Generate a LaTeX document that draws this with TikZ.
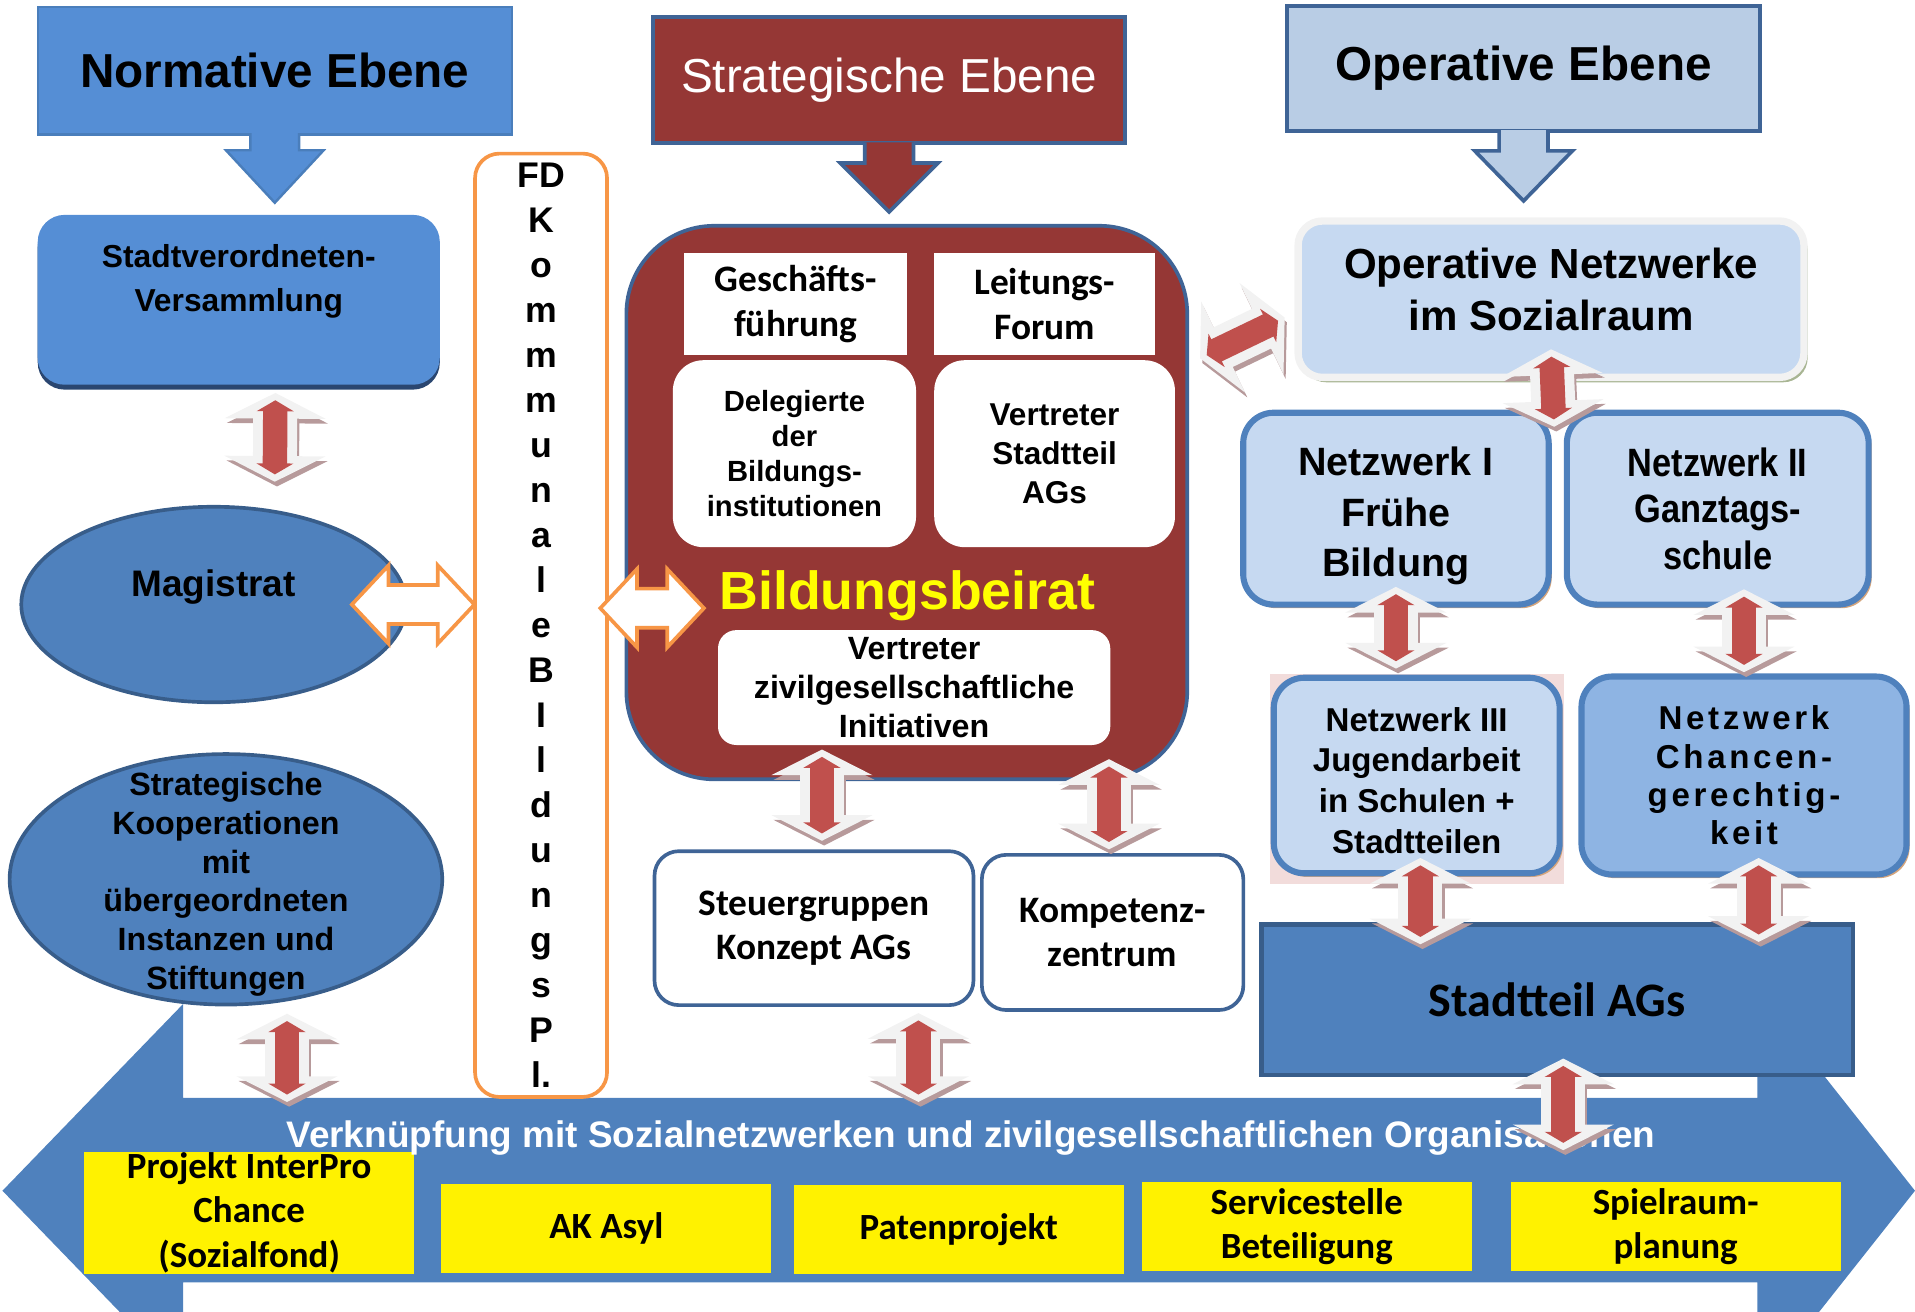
\documentclass[tikz,border=0pt]{standalone}
\usepackage{fontspec}
\setmainfont{Liberation Sans}
\newfontfamily\calfont{Carlito}
\newfontfamily\slimfont{Liberation Sans}[FakeStretch=0.87]
\newfontfamily\widefont{Liberation Sans}[LetterSpace=11]
\usepackage{tikz}
\usetikzlibrary{arrows.meta, calc, shadows, shapes.geometric}
\definecolor{normblue}{HTML}{558ED5}
\definecolor{normedge}{HTML}{4A7EBB}
\definecolor{stratred}{HTML}{953735}
\definecolor{edgeblue}{HTML}{3F6496}
\definecolor{operblue}{HTML}{B9CDE5}
\definecolor{midblue}{HTML}{4F81BD}
\definecolor{deepblue}{HTML}{385D8A}
\definecolor{navyshade}{HTML}{2A4670}
\definecolor{paleblue}{HTML}{C6D9F1}
\definecolor{chanceblue}{HTML}{8EB4E3}
\definecolor{tanshade}{HTML}{D4A57D}
\definecolor{greenshade}{HTML}{A8B593}
\definecolor{pinkbg}{HTML}{F2DCDB}
\definecolor{orangeline}{HTML}{F79646}
\definecolor{beiratyellow}{HTML}{FFFF00}
\definecolor{arrowred}{HTML}{C0504D}
\definecolor{mauveshade}{HTML}{B79A9B}

\newcommand{\twoway}[2]{%
  \draw[bevelshade] #1 -- #2;
  \draw[bevel] #1 -- #2;
  \draw[redcore] #1 -- #2;
}
\newcommand{\twinhollow}[2]{%
  \draw[hollow] (#1) -- ++(30,-32) -- ++(0,16) -- ($(#2)+(-30,-16)$) -- ++(0,-16) -- (#2)
    -- ++(-30,32) -- ++(0,-16) -- ($(#1)+(30,16)$) -- ++(0,16) -- cycle;
}

\begin{document}
\begin{tikzpicture}[
  x=0.01cm, y=-0.01cm,
  every node/.style={inner sep=0pt, align=center},
  head/.style={rectangle, line width=0.03cm, minimum width=3.87cm, minimum height=1.03cm},
  headarrow/.style={line width=0.03cm, line join=miter},
  blob/.style={ellipse, fill=midblue, draw=deepblue, line width=0.03cm},
  white box/.style={rectangle, fill=white, rounded corners=0.25cm},
  framed/.style={rectangle, rounded corners=0.2cm, fill=white, draw=edgeblue, line width=0.03cm,
                 font=\calfont\bfseries\fontsize{8.7}{10.2}\selectfont},
  net/.style={rectangle, rounded corners=0.25cm, fill=paleblue, draw=midblue, line width=0.05cm,
              drop shadow={shadow xshift=0.025cm, shadow yshift=-0.03cm, fill=tanshade, opacity=1}},
  yellowbox/.style={rectangle, fill=yellow, minimum width=2.7cm, minimum height=0.73cm,
                    font=\calfont\bfseries\fontsize{8.6}{10.4}\selectfont},
  hollow/.style={draw=orangeline, fill=white, line width=0.03cm, line join=miter},
  bevel/.style={draw=black!5, line width=0.36cm,
                {Triangle[width=0.82cm,length=0.21cm]}-{Triangle[width=0.82cm,length=0.21cm]}},
  bevelshade/.style={bevel, draw=mauveshade, transform canvas={xshift=0.5pt, yshift=-1.1pt}},
  redcore/.style={draw=arrowred, line width=0.2cm, shorten <=0.06cm, shorten >=0.06cm,
                  {Triangle[width=0.3cm,length=0.09cm]}-{Triangle[width=0.3cm,length=0.09cm]}},
]
\path[use as bounding box] (0,0) rectangle (1568,1074);
\clip (0,0) rectangle (1568,1074);

\fill[midblue] (2,975) -- (150,822) -- (150,899) -- (1439,899) -- (1439,812) -- (1568,975)
  -- (1439,1138) -- (1439,1050) -- (150,1050) -- (150,1128) -- cycle;
\node[yellowbox, minimum height=1cm] (y1) at (204,993) {Projekt InterPro\\Chance\\(Sozialfond)};
\node[yellowbox] (y2) at (496.5,1006) {AK Asyl};
\node[yellowbox] (y3) at (785,1006.5) {Patenprojekt};
\node[yellowbox] (y4) at (1070,1004.5) {Servicestelle\\Beteiligung};
\node[yellowbox] (y5) at (1372,1004.5) {Spielraum-\\planung};
\node[text=white, font=\bfseries\fontsize{8.6}{10}\selectfont] (verk) at (795,932)
  {Verknüpfung mit Sozialnetzwerken und zivilgesellschaftlichen Organisationen};

\node[head, fill=normblue, draw=normedge, line width=0.02cm, minimum width=3.88cm, minimum height=1.04cm,
      font=\bfseries\fontsize{11.1}{13}\selectfont] (norm) at (225,58) {Normative Ebene};
\filldraw[headarrow, fill=normblue, draw=normedge, line width=0.02cm] ($(norm.south)+(-20,-2)$)
  -- ++(0,14) -- ++(-20,0) -- ++(40,43) -- ++(40,-43) -- ++(-20,0) -- ++(0,-14);
\node[rectangle, rounded corners=0.22cm, fill=normblue, minimum width=3.29cm, minimum height=1.39cm,
      drop shadow={shadow xshift=0cm, shadow yshift=-0.04cm, fill=navyshade, opacity=1}] (stadt) at (195.5,245.5) {};
\node[font=\bfseries\fontsize{7.4}{10.2}\selectfont] (stadttxt) at ($(stadt.north)+(0,55)$) {Stadtverordneten-\\Versammlung};
\node[blob, minimum width=3.15cm, minimum height=1.6cm] (mag) at (175,495) {};
\node[font=\bfseries\fontsize{8.6}{10}\selectfont] (magtxt) at ($(mag.center)+(0,-14)$) {Magistrat};
\node[blob, minimum width=3.54cm, minimum height=2.05cm] (koop) at (185,720) {};
\node[font=\bfseries\fontsize{7.5}{9}\selectfont] (kooptxt) at (185,724)
  {Strategische\\Kooperationen\\mit\\übergeordneten\\Instanzen und\\Stiftungen};
\node[rectangle, rounded corners=0.2cm, draw=orangeline, fill=white, line width=0.03cm,
      minimum width=1.08cm, minimum height=7.72cm, font=\bfseries\fontsize{8.3}{10.47}\selectfont] (fd) at (443,512)
  {FD\\K\\o\\m\\m\\m\\u\\n\\a\\l\\e\\B\\I\\l\\d\\u\\n\\g\\s\\P\\l.};

\node[head, fill=stratred, draw=edgeblue, text=white, minimum width=3.86cm,
      font=\fontsize{11.1}{13}\selectfont] (strat) at (728,65.5) {Strategische Ebene};
\filldraw[headarrow, fill=stratred, draw=edgeblue] ($(strat.south)+(-20,-2)$)
  -- ++(0,17) -- ++(-20,0) -- ++(40,40) -- ++(40,-40) -- ++(-20,0) -- ++(0,-17);
\node[rectangle, rounded corners=0.72cm, fill=stratred, draw=edgeblue, line width=0.03cm,
      minimum width=4.59cm, minimum height=4.53cm] (beirat) at (742.5,411.5) {};
\node[rectangle, fill=white, minimum width=1.83cm, minimum height=0.84cm,
      font=\calfont\bfseries\fontsize{8.7}{10.3}\selectfont] (gf) at (651.5,249) {Geschäfts-\\führung};
\node[rectangle, fill=white, minimum width=1.81cm, minimum height=0.84cm,
      font=\calfont\bfseries\fontsize{8.7}{10.3}\selectfont] (lf) at (855.5,249) {Leitungs-\\Forum};
\node[white box, minimum width=1.99cm, minimum height=1.53cm, font=\bfseries\fontsize{6.8}{8.2}\selectfont] (del)
  at (650.5,371.5) {Delegierte\\der\\Bildungs-\\institutionen};
\node[white box, minimum width=1.97cm, minimum height=1.53cm, font=\bfseries\fontsize{7.35}{9}\selectfont] (vst)
  at (863.5,371.5) {Vertreter\\Stadtteil\\AGs};
\node[text=beiratyellow, font=\bfseries\fontsize{12.5}{14}\selectfont] (beirattxt) at (743,488) {Bildungsbeirat};
\node[white box, rounded corners=0.15cm, minimum width=3.21cm, minimum height=0.94cm,
      font=\bfseries\fontsize{7.5}{9}\selectfont] (vzi) at (748.5,563) {Vertreter\\zivilgesellschaftliche\\Initiativen};
\node[framed, minimum width=2.61cm, minimum height=1.26cm] (steu) at (666.5,760) {Steuergruppen\\Konzept AGs};
\node[framed, minimum width=2.14cm, minimum height=1.27cm] (komp) at (911,763.5) {Kompetenz-\\zentrum};

\node[head, fill=operblue, draw=edgeblue, minimum width=3.87cm, minimum height=1.02cm,
      font=\bfseries\fontsize{11.1}{13}\selectfont] (oper) at (1247.5,56) {Operative Ebene};
\filldraw[headarrow, fill=operblue, draw=edgeblue] ($(oper.south)+(-20,-2)$)
  -- ++(0,17) -- ++(-20,0) -- ++(40,41) -- ++(40,-41) -- ++(-20,0) -- ++(0,-17);
\node[rectangle, rounded corners=0.2cm, fill=paleblue, draw=black!5, line width=0.06cm,
      minimum width=4.14cm, minimum height=1.28cm,
      drop shadow={shadow xshift=0.03cm, shadow yshift=-0.04cm, fill=greenshade, opacity=1}] (onet) at (1270,245) {};
\node[font=\bfseries\fontsize{9.8}{12}\selectfont] (onettxt) at ($(onet.center)+(0,-8)$) {Operative Netzwerke\\im Sozialraum};
\node[net, minimum width=2.5cm, minimum height=1.57cm] (nw1) at (1143,416.5) {};
\node[font=\bfseries\fontsize{9.2}{11.7}\selectfont] (nw1txt) at ($(nw1.center)+(0,6)$) {Netzwerk I\\Frühe\\Bildung};
\node[net, minimum width=2.47cm, minimum height=1.57cm, font=\slimfont\bfseries\fontsize{9.2}{10.8}\selectfont] (nw2)
  at (1406.5,416.5) {Netzwerk II\\Ganztags-\\schule};
\fill[pinkbg] (1040,552) rectangle (1281,724);
\node[net, minimum width=2.34cm, minimum height=1.6cm] (nw3) at (1160,635) {};
\node[font=\bfseries\fontsize{7.7}{9.5}\selectfont] (nw3txt) at ($(nw3.center)+(0,4)$)
  {Netzwerk III\\Jugendarbeit\\in Schulen +\\Stadtteilen};
\node[net, fill=chanceblue, minimum width=2.66cm, minimum height=1.62cm,
      font=\widefont\bfseries\fontsize{7.7}{8.9}\selectfont] (nwc) at (1428,635) {Netzwerk\\Chancen-\\gerechtig-\\keit};
\node[rectangle, fill=midblue, draw=deepblue, line width=0.035cm, minimum width=4.84cm, minimum height=1.23cm,
      font=\calfont\bfseries\fontsize{11.2}{13}\selectfont] (sag) at (1275,818.5) {Stadtteil AGs};

\coordinate (ma) at ($(mag.east)+(-46,0)$);
\coordinate (mb) at ($(fd.west)+(1,-17)$);
\coordinate (fa) at ($(fd.east)+(-7,-14)$);
\coordinate (fb) at ($(beirat.west)+(65,86.5)$);
\twinhollow{ma}{mb}
\twinhollow{fa}{fb}

\twoway{($(stadt.south)+(30,6)$)}{($(mag.north)+(50,-19)$)}
\twoway{($(koop.south)+(50,6)$)}{($(y1.north)+(31,-40)$)}
\twoway{($(vzi.south)+(-75.5,3)$)}{($(steu.north)+(6.5,-7)$)}
\twoway{($(beirat.south)+(165.5,-18)$)}{($(komp.north)+(-3,-3)$)}
\twoway{($(steu.south)+(85.5,5)$)}{($(y3.north)+(-33,-67)$)}
\twoway{($(beirat.north east)+(9,110)$)}{($(onet.west)+(-8,15)$)}
\twoway{($(onet.south)+(0,-26)$)}{($(nw1.north east)+(2,14)$)}
\twoway{($(nw1.south)+(0,-17)$)}{($(nw3.north)+(-17,-5)$)}
\twoway{($(nw2.south)+(21.5,-15)$)}{($(nwc.north)+(0,-1)$)}
\twoway{($(nw3.south)+(3,-15)$)}{($(sag.north)+(-112,18)$)}
\twoway{($(nwc.south)+(12,-16)$)}{($(sag.north)+(165,16)$)}
\twoway{($(sag.south)+(5,-15)$)}{($(sag.south)+(5,60)$)}
\end{tikzpicture}
\end{document}
